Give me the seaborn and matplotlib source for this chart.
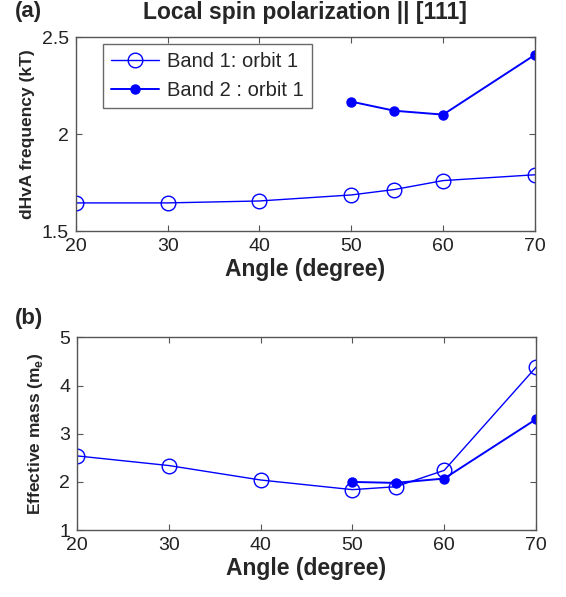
import matplotlib
matplotlib.use('Agg')
import matplotlib.pyplot as plt
import seaborn as sns

# valores
angulo_b1 = [20, 30, 40, 50, 54.7, 60, 70]
freq_b1 = [1.645, 1.645, 1.655, 1.686, 1.714, 1.76, 1.79]
massa_b1 = [2.54, 2.34, 2.04, 1.84, 1.90, 2.24, 4.38]

angulo_b2 = [50, 54.7, 60, 70]
freq_b2 = [2.167, 2.12, 2.10, 2.408]
massa_b2 = [2.00, 1.98, 2.07, 3.30]

rotulos = ['Band 1: orbit 1', 'Band 2 : orbit 1']

sns.set_style('ticks')
plt.rcParams['font.family'] = ['Liberation Sans', 'DejaVu Sans']
plt.rcParams['mathtext.fontset'] = 'custom'
plt.rcParams['mathtext.rm'] = 'Liberation Sans:bold'
plt.rcParams['xtick.direction'] = 'in'
plt.rcParams['ytick.direction'] = 'in'

azul = '#0000ff'
cinza = '#555555'

fig = plt.figure(figsize=(5.66, 5.97), dpi=100)
ax1 = fig.add_axes([0.134, 0.613, 0.811, 0.325])
ax2 = fig.add_axes([0.136, 0.112, 0.811, 0.323])

aberto = dict(color=azul, lw=1.0, marker='o', markersize=10.5,
              markerfacecolor='none', markeredgecolor=azul, markeredgewidth=1.0)
cheio = dict(color=azul, lw=1.4, marker='o', markersize=6.5,
             markerfacecolor=azul, markeredgecolor=azul, markeredgewidth=1.0)

sns.lineplot(x=angulo_b1, y=freq_b1, ax=ax1, label=rotulos[0], **aberto)
sns.lineplot(x=angulo_b2, y=freq_b2, ax=ax1, label=rotulos[1], **cheio)

sns.lineplot(x=angulo_b1, y=massa_b1, ax=ax2, **aberto)
sns.lineplot(x=angulo_b2, y=massa_b2, ax=ax2, **cheio)

ax1.set_ylim(1.5, 2.5)
ax1.set_yticks([1.5, 2, 2.5])
ax1.set_yticklabels(['1.5', '2', '2.5'])
ax2.set_ylim(1, 5)
ax2.set_yticks([1, 2, 3, 4, 5])

for ax in (ax1, ax2):
    ax.set_xlim(20, 70)
    ax.set_xticks([20, 30, 40, 50, 60, 70])
    ax.tick_params(which='both', top=True, right=True, length=4, width=0.8,
                   color=cinza, labelsize=14, labelcolor='#222222', pad=5)
    for s in ax.spines.values():
        s.set_visible(True)
        s.set_color(cinza)
        s.set_linewidth(1.0)
    ax.set_xlabel('Angle (degree)', fontsize=16.5, fontweight='bold', labelpad=2)

ax1.set_ylabel('dHvA frequency (kT)', fontsize=12.5, fontweight='bold')
ax2.set_ylabel(r'Effective mass (m$_\mathregular{e}$)', fontsize=12.5, fontweight='bold')
ax1.yaxis.set_label_coords(-0.089, 0.5)
ax2.yaxis.set_label_coords(-0.070, 0.5)

ax1.set_title('Local spin polarization || [111]', fontsize=16.5, fontweight='bold', pad=13)

leg = ax1.legend(loc='upper left', bbox_to_anchor=(0.059, 0.964), borderaxespad=0,
                 fontsize=14.5, frameon=True, fancybox=False, edgecolor='#444444',
                 handlelength=2.4, handletextpad=0.4, labelspacing=0.5, borderpad=0.4)
leg.get_frame().set_linewidth(1.0)
if ax2.get_legend() is not None:
    ax2.get_legend().remove()

fig.text(0.026, 0.981, '(a)', fontsize=16, fontweight='bold', va='center', ha='left')
fig.text(0.026, 0.466, '(b)', fontsize=16, fontweight='bold', va='center', ha='left')

fig.savefig('out.png', dpi=100)
